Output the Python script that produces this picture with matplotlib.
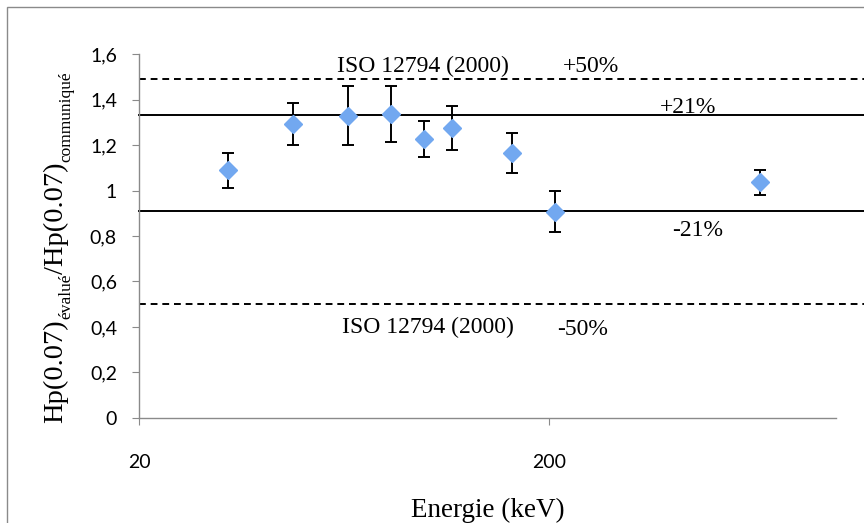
import matplotlib
matplotlib.use('Agg')
import matplotlib.pyplot as plt
from matplotlib.patches import Rectangle

# data
energie = [33, 47.5, 64.7, 82.4, 99, 116, 162, 206, 650]
rapport = [1.09, 1.292, 1.328, 1.336, 1.226, 1.275, 1.165, 0.906, 1.037]
erreur = [0.077, 0.092, 0.13, 0.123, 0.08, 0.097, 0.086, 0.09, 0.055]

limites_iso = [1.49, 0.5]
limites_21 = [1.33, 0.91]
yticks = [0, 0.2, 0.4, 0.6, 0.8, 1, 1.2, 1.4, 1.6]
ytick_labels = ['0', '0,2', '0,4', '0,6', '0,8', '1', '1,2', '1,4', '1,6']
xticks = [20, 200]

serif = 'Liberation Serif'
sans = 'Lato'

W, H = 864, 523
fig = plt.figure(figsize=(W / 100, H / 100), dpi=100)
ax = fig.add_axes([0.161, 0.2008, 0.807, 0.6959])

# outer chart frame
fig.patches.append(Rectangle((7 / W, -0.05), 1.2, 1 - 7 / H + 0.05,
                             transform=fig.transFigure, fill=False,
                             edgecolor='#8a8a8a', linewidth=1.0))

for y in limites_iso:
    ax.plot([0, 1.05], [y, y], transform=ax.get_yaxis_transform(), color='black',
            lw=1.4, ls=(0, (3.5, 2.5)), clip_on=False, zorder=2)
for y in limites_21:
    ax.plot([0, 1.05], [y, y], transform=ax.get_yaxis_transform(), color='black',
            lw=1.4, clip_on=False, zorder=2)

ax.errorbar(energie, rapport, yerr=erreur, fmt='none', ecolor='black',
            elinewidth=1.4, capsize=4, capthick=1.4, zorder=3)
ax.plot(energie, rapport, 'D', color='#72A8F0', markersize=9, zorder=4)

ax.set_xscale('log')
ax.set_xlim(20, 1000)
ax.set_ylim(0, 1.6)
ax.set_xticks(xticks)
ax.set_xticklabels([str(t) for t in xticks])
ax.xaxis.set_minor_locator(matplotlib.ticker.NullLocator())
ax.set_yticks(yticks)
ax.set_yticklabels(ytick_labels)

for s in ['top', 'right']:
    ax.spines[s].set_visible(False)
for s in ['left', 'bottom']:
    ax.spines[s].set_color('#8a8a8a')
    ax.spines[s].set_linewidth(1.0)

ax.tick_params(axis='y', length=5, color='#8a8a8a', pad=11, labelsize=14)
ax.tick_params(axis='x', length=5, color='#8a8a8a', pad=21, labelsize=14)
for lab in ax.get_xticklabels() + ax.get_yticklabels():
    lab.set_fontfamily(sans)

# annotations (x in axes fraction, y in data)
tr = ax.get_yaxis_transform()
notes = [
    (0.284, 1.545, 'ISO 12794 (2000)'),
    (0.608, 1.545, '+50%'),
    (0.747, 1.365, '+21%'),
    (0.765, 0.825, '-21%'),
    (0.291, 0.40, 'ISO 12794 (2000)'),
    (0.600, 0.39, '-50%'),
]
for nx, ny, txt in notes:
    ax.text(nx, ny, txt, transform=tr, fontsize=17, family=serif,
            ha='left', va='center')

ax.set_xlabel('Energie (keV)', fontsize=19.5, family=serif, labelpad=19)

# y label built piece by piece so the subscripts can be small
renderer = fig.canvas.get_renderer()
pieces = [('Hp(0.07)', 20.5, 56), ('évalué', 12.5, 66),
          ('/Hp(0.07)', 20.5, 56), ('communiqué', 12.5, 66)]
ypos = H - 423
for txt, size, xc in pieces:
    t = fig.text(xc / W, ypos / H, txt, rotation=90, fontsize=size, family=serif,
                 ha='center', va='bottom')
    ypos += t.get_window_extent(renderer).height

fig.savefig('out.png', dpi=100)
